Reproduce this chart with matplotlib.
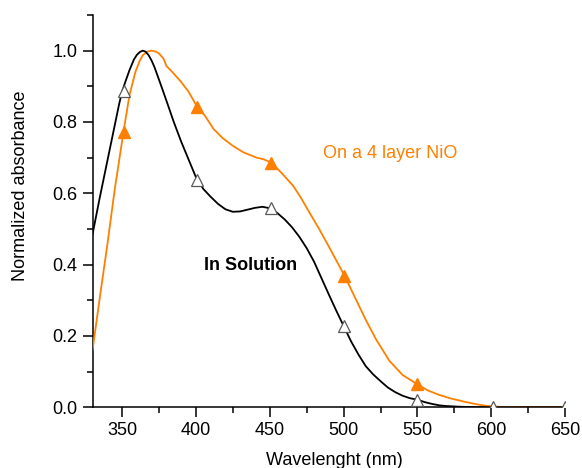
import matplotlib
matplotlib.use('Agg')
import matplotlib.pyplot as plt
from matplotlib.ticker import MultipleLocator, FormatStrFormatter

plt.rcParams['font.family'] = ['Liberation Sans', 'DejaVu Sans']

# In solution (black)
sol_wl = [330, 335, 340, 345, 348, 350, 352, 355, 358, 360, 362, 364, 366, 368, 370, 372, 376, 380, 385,
          390, 395, 400, 405, 410, 415, 420, 425, 430, 435, 440, 445, 450, 455, 460, 465, 470,
          475, 480, 485, 490, 495, 500, 505, 510, 515, 520, 525, 530, 535, 540, 545,
          550, 555, 560, 565, 570, 580, 590, 650]
sol_abs = [0.485, 0.59, 0.69, 0.79, 0.85, 0.885, 0.91, 0.945, 0.975, 0.988, 0.996, 1.0, 0.997, 0.987, 0.972,
           0.953, 0.907, 0.86, 0.80, 0.745, 0.695, 0.645, 0.612, 0.59, 0.57, 0.555, 0.548, 0.549, 0.554,
           0.559, 0.562, 0.558, 0.545, 0.527, 0.505, 0.478,
           0.446, 0.408, 0.362, 0.316, 0.271, 0.228, 0.185, 0.148, 0.115, 0.092, 0.073, 0.055, 0.042, 0.032, 0.025,
           0.021, 0.014, 0.009, 0.005, 0.003, 0.001, 0.0, 0.0]
sol_mark_wl = [351, 401, 451, 500, 550, 601, 650]
sol_mark_abs = [0.886, 0.637, 0.56, 0.228, 0.021, 0.0, 0.0]

# On a 4 layer NiO (orange)
nio_wl = [330, 335, 340, 345, 351, 355, 359, 362, 364, 367, 370, 373, 375, 378, 380, 384, 390, 395,
          401, 406, 412, 418, 425, 432, 441, 446, 451, 458, 466, 471, 477, 483, 489,
          495, 501, 508, 515, 522, 531, 540, 550, 557, 565, 573, 581, 589, 596, 605,
          620, 650]
nio_abs = [0.16, 0.31, 0.455, 0.61, 0.773, 0.875, 0.94, 0.972, 0.987, 0.997, 1.0, 0.997, 0.992, 0.978,
           0.957, 0.94, 0.912, 0.885,
           0.841, 0.818, 0.78, 0.755, 0.733, 0.715, 0.70, 0.695, 0.686, 0.657, 0.62, 0.588, 0.545, 0.503, 0.458,
           0.412, 0.366, 0.305, 0.245, 0.19, 0.13, 0.09, 0.064, 0.047, 0.034, 0.024, 0.016, 0.009, 0.004, 0.001,
           0.0, 0.0]
nio_mark_wl = [351, 401, 451, 500.5, 550]
nio_mark_abs = [0.773, 0.841, 0.686, 0.367, 0.064]

orange = '#ff8000'
fs = 13

fig = plt.figure(figsize=(5.82, 4.68), dpi=100)
ax = fig.add_axes([0.159, 0.130, 0.812, 0.838])

ax.plot(nio_wl, nio_abs, color=orange, lw=1.3, zorder=3)
ax.plot(sol_wl, sol_abs, color='black', lw=1.3, zorder=3)
ax.plot(nio_mark_wl, nio_mark_abs, ls='none', marker='^', ms=8, color=orange, zorder=4)
ax.plot(sol_mark_wl, sol_mark_abs, ls='none', marker='^', ms=8, mfc='white', mec='0.35', mew=0.9, zorder=5)

ax.set_xlim(330, 650)
ax.set_ylim(0, 1.1)
for s in ['top', 'right']:
    ax.spines[s].set_visible(False)
for s in ['left', 'bottom']:
    ax.spines[s].set_linewidth(1.1)

ax.xaxis.set_major_locator(MultipleLocator(50))
ax.xaxis.set_minor_locator(MultipleLocator(25))
ax.yaxis.set_major_locator(MultipleLocator(0.2))
ax.yaxis.set_minor_locator(MultipleLocator(0.1))
ax.yaxis.set_major_formatter(FormatStrFormatter('%.1f'))
ax.tick_params(which='major', direction='out', length=7, width=1.1, labelsize=fs, pad=4)
ax.tick_params(which='minor', direction='out', length=4, width=1.1)

ax.set_xlabel('Wavelenght (nm)', fontsize=fs)
ax.set_ylabel('Normalized absorbance', fontsize=fs)
ax.xaxis.set_label_coords(0.512, -0.115)
ax.yaxis.set_label_coords(-0.135, 0.564)

fig.text(323 / 582, 1 - 153 / 468, 'On a 4 layer NiO', color=orange, fontsize=fs,
         va='center', ha='left')
fig.text(204 / 582, 1 - 265 / 468, 'In Solution', fontsize=fs, fontweight='bold',
         va='center', ha='left')

fig.savefig('out.png', dpi=100)
